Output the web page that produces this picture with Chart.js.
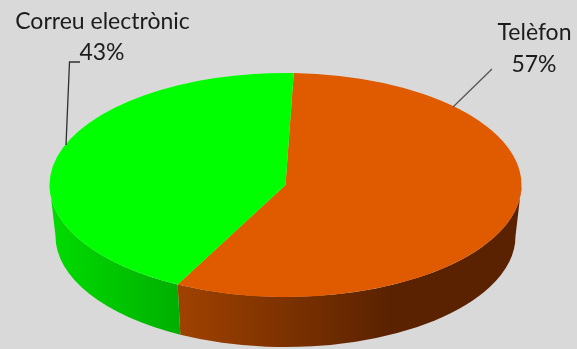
<!DOCTYPE html>
<html>
<head>
<meta charset="utf-8">
<script src="https://cdn.jsdelivr.net/npm/chart.js@4"></script>
<style>
  html, body { margin: 0; padding: 0; background: #D9D9D9; }
  #wrap { width: 577px; height: 349px; }
</style>
</head>
<body>
<div id="wrap"><canvas id="pieChart" width="577" height="349"></canvas></div>
<script>
// =========================
// DATA
// =========================
const categories = ["Telèfon", "Correu electrònic"];
const percentages = [57, 43];
const sliceColors = ["#E05A00", "#00FF00"];

// walls: horizontal gradient stops [left colour, right colour]
const wallColors = [["#A04200", "#5A2200"], ["#00DC00", "#00B000"]];

// =========================
// GEOMETRY OF THE "3D" DISC
// =========================
const TOP = { cx: 285.5, cy: 185, rx: 236, ry: 112 };     // top face
const BOTTOM = { cx: 285.5, cy: 236, rx: 230, ry: 111 };  // bottom rim

const fakeDepth = {
  id: "fakeDepth",
  beforeDatasetsDraw(chart) {
    const ctx = chart.ctx;
    const arcs = chart.getDatasetMeta(0).data;

    // side walls: only the front half (angles 0..PI) is visible
    arcs.forEach((arc, i) => {
      const lo = Math.max(arc.startAngle, 0);
      const hi = Math.min(arc.endAngle, Math.PI);
      if (lo >= hi) return;
      const xl = TOP.cx + TOP.rx * Math.cos(hi);
      const xr = TOP.cx + TOP.rx * Math.cos(lo);
      const g = ctx.createLinearGradient(xl, 0, i === 0 ? Math.min(xr, 390) : xr, 0);
      g.addColorStop(0, wallColors[i][0]);
      g.addColorStop(1, wallColors[i][1]);
      ctx.save();
      ctx.beginPath();
      ctx.ellipse(TOP.cx, TOP.cy, TOP.rx, TOP.ry, 0, lo, hi);
      ctx.lineTo(BOTTOM.cx + BOTTOM.rx * Math.cos(hi), BOTTOM.cy + BOTTOM.ry * Math.sin(hi));
      ctx.ellipse(BOTTOM.cx, BOTTOM.cy, BOTTOM.rx, BOTTOM.ry, 0, hi, lo, true);
      ctx.closePath();
      ctx.fillStyle = g;
      ctx.fill();
      ctx.restore();
    });

    // squash the library's round pie into the top ellipse
    const a = arcs[0];
    const R = a.outerRadius;
    ctx.save();
    ctx.translate(TOP.cx, TOP.cy);
    ctx.scale(TOP.rx / R, TOP.ry / R);
    ctx.translate(-a.x, -a.y);
  },
  afterDatasetsDraw(chart) {
    chart.ctx.restore();
  }
};

// labels with leader lines
const sliceLabels = {
  id: "sliceLabels",
  afterDraw(chart) {
    const ctx = chart.ctx;
    ctx.save();
    ctx.font = "23px Lato";
    ctx.fillStyle = "#1C1C1C";
    ctx.textAlign = "center";
    ctx.textBaseline = "alphabetic";
    ctx.fillText(categories[1], 102.5, 29);
    ctx.fillText(percentages[1] + "%", 102, 60);
    ctx.fillText(categories[0], 534.5, 40);
    ctx.fillText(percentages[0] + "%", 534, 72);

    ctx.lineWidth = 1.3;
    ctx.strokeStyle = "#303030";
    ctx.beginPath();
    ctx.moveTo(80, 62); ctx.lineTo(69.5, 62); ctx.lineTo(66, 145);
    ctx.stroke();
    ctx.strokeStyle = "#555555";
    ctx.beginPath();
    ctx.moveTo(492, 69); ctx.lineTo(453, 107);
    ctx.stroke();
    ctx.restore();
  }
};

new Chart(document.getElementById("pieChart").getContext("2d"), {
  type: "pie",
  data: {
    labels: categories,
    datasets: [{
      data: percentages,
      backgroundColor: sliceColors,
      borderWidth: 0
    }]
  },
  options: {
    responsive: false,
    animation: false,
    rotation: 2,
    layout: { padding: 0 },
    plugins: {
      legend: { display: false },
      tooltip: { enabled: false }
    }
  },
  plugins: [fakeDepth, sliceLabels]
});
</script>
</body>
</html>
